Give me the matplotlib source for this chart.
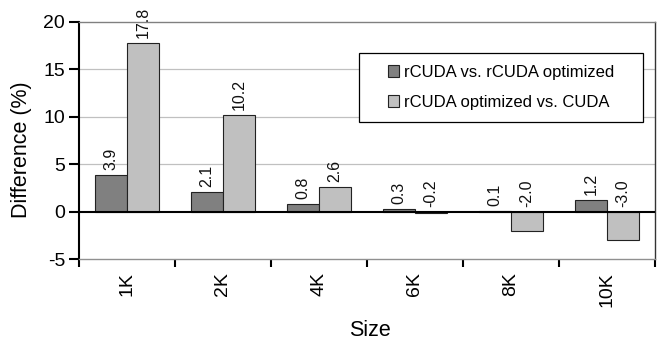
import matplotlib
matplotlib.use("Agg")
import matplotlib.pyplot as plt
from matplotlib.patches import Patch, Rectangle
import numpy as np

plt.rcParams['font.family'] = ['Liberation Sans', 'DejaVu Sans']

categories = ['1K', '2K', '4K', '6K', '8K', '10K']
series_names = ['rCUDA vs. rCUDA optimized', 'rCUDA optimized vs. CUDA']
rcuda_vs_opt = [3.9, 2.1, 0.8, 0.3, 0.1, 1.2]
opt_vs_cuda = [17.8, 10.2, 2.6, -0.2, -2.0, -3.0]
y_ticks = [-5, 0, 5, 10, 15, 20]

colors = ['#808080', '#c0c0c0']

fig = plt.figure(figsize=(6.57, 3.41), dpi=100)
ax = fig.add_axes([79/657, 1-259/341, 576/657, 237/341])

x = np.arange(len(categories))
w = 1/3
for i, (vals, c) in enumerate(zip([rcuda_vs_opt, opt_vs_cuda], colors)):
    offs = (i - 0.5) * w
    ax.bar(x + offs, vals, width=w, color=c, edgecolor='#222222', linewidth=0.8, zorder=3)
    for xi, v in zip(x + offs, vals):
        ax.annotate(f'{v:.1f}', xy=(xi, max(v, 0)), xytext=(0, 3.5), textcoords='offset points',
                    rotation=90, ha='center', va='bottom', fontsize=11.5, color='#111111')

ax.set_xlim(-0.5, len(categories) - 0.5)
ax.set_ylim(-5, 20)
ax.set_yticks(y_ticks)
ax.set_yticklabels([str(t) for t in y_ticks], fontsize=14)
for t in [5, 10, 15]:
    ax.axhline(t, color='#c0c0c0', linewidth=0.9, zorder=1)
ax.axhline(0, color='black', linewidth=1.5, zorder=4)

ax.set_xticks(np.arange(-0.5, len(categories)))
ax.set_xticklabels([])
ax.tick_params(axis='x', length=6, width=1.5, color='black', direction='out')
ax.tick_params(axis='y', length=7, width=1.5, color='black', direction='out', pad=3)
for xi, lab in zip(x, categories):
    ax.annotate(lab, xy=(xi, -5), xytext=(0, -9.4), textcoords='offset points',
                rotation=90, ha='center', va='top', fontsize=14)

ax.spines['left'].set_color('black')
ax.spines['left'].set_linewidth(1.5)
ax.spines['top'].set_color('#808080')
ax.spines['top'].set_linewidth(1.0)
ax.spines['bottom'].set_color('#909090')
ax.spines['bottom'].set_linewidth(1.0)
ax.spines['right'].set_color('#333333')
ax.spines['right'].set_linewidth(1.0)

# legend frame box
ax.add_patch(Rectangle(((359-79)/576, (259-122)/237), (643-359)/576, (122-53)/237,
                       transform=ax.transAxes, facecolor='white', edgecolor='black',
                       linewidth=0.9, zorder=5))
handles = [Patch(facecolor=c, edgecolor='#222222', linewidth=0.8) for c in colors]
leg = ax.legend(handles, series_names, loc='center', bbox_to_anchor=(0.7326, 0.7236),
                fontsize=12, frameon=False, handlelength=0.67, handleheight=0.67,
                handletextpad=0.3, borderaxespad=0, labelspacing=0.9, borderpad=0)
leg.set_zorder(6)

fig.text(22/657, 1-150/341, 'Difference (%)', rotation=90, ha='center', va='center', fontsize=15.5)
fig.text(370/657, 1-330/341, 'Size', ha='center', va='center', fontsize=15.5)

fig.savefig('out.png', dpi=100)
